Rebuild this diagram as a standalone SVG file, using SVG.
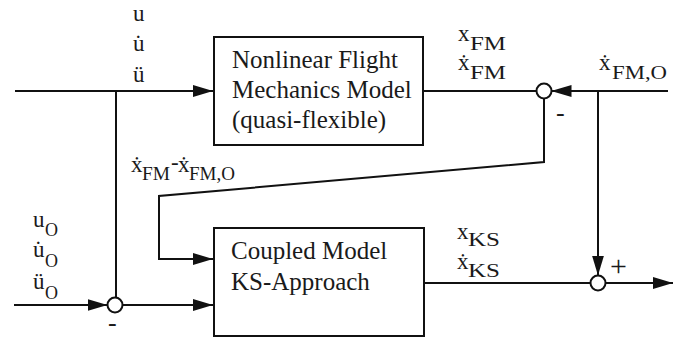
<svg xmlns="http://www.w3.org/2000/svg" width="674" height="340" viewBox="0 0 674 340">
<defs>
<marker id="ah" viewBox="0 0 20 12" refX="20" refY="6" markerWidth="20" markerHeight="12" markerUnits="userSpaceOnUse" orient="auto">
<path d="M0,0 L20,6 L0,12 Z" fill="#111"/>
</marker>
<style>
.box{fill:#fff;stroke:#111;stroke-width:2}
.ln{fill:none;stroke:#111;stroke-width:2}
.arr{fill:none;stroke:#111;stroke-width:2;marker-end:url(#ah)}
.sum{fill:#fff;stroke:#111;stroke-width:2}
.bt{font-family:"Liberation Serif","Times New Roman",serif;font-size:25px;fill:#1a1a1a}
.lb{font-family:"Liberation Serif","Times New Roman",serif;font-size:23px;fill:#1a1a1a}
.sub{font-size:18px}
.sg{font-family:"Liberation Serif","Times New Roman",serif;font-size:26px;fill:#1a1a1a}
</style>
</defs>
<g id="connectors">
<path class="arr" d="M15,91 H213"/>
<path class="ln" d="M116,91 V297.5"/>
<path class="arr" d="M14,305 H107.5"/>
<path class="arr" d="M122.5,305 H213"/>
<path class="ln" d="M424,91 H536.5"/>
<path class="arr" d="M668,91 H551.5"/>
<path class="arr" d="M598,91 V275.5"/>
<path class="ln" d="M424,283 H590.5"/>
<path class="arr" d="M605.5,283 H673"/>
<path class="arr" d="M544,98.5 V162 L159,196 V259 H213"/>
</g>
<g id="fm-model">
<rect class="box" x="214" y="37" width="209" height="108"/>
<text class="bt" x="232" y="68">Nonlinear Flight</text>
<text class="bt" x="232" y="98">Mechanics Model</text>
<text class="bt" x="232" y="128">(quasi-flexible)</text>
</g>
<g id="ks-model">
<rect class="box" x="214" y="228" width="210" height="108"/>
<text class="bt" x="231" y="259">Coupled Model</text>
<text class="bt" x="231" y="290">KS-Approach</text>
</g>
<g id="sum-top">
<circle class="sum" cx="544" cy="91" r="7.5"/>
</g>
<g id="sum-left">
<circle class="sum" cx="115" cy="305" r="7.5"/>
</g>
<g id="sum-right">
<circle class="sum" cx="598" cy="283" r="7.5"/>
</g>
<g id="labels">
<text class="lb" x="133" y="21">u</text>
<text class="lb" x="133" y="51">u̇</text>
<text class="lb" x="133" y="82">ü</text>
<text class="lb" x="33" y="227">u<tspan class="sub" x="45" y="236">O</tspan></text>
<text class="lb" x="33" y="257">u̇<tspan class="sub" x="45" y="267">O</tspan></text>
<text class="lb" x="33" y="289">ü<tspan class="sub" x="45" y="299">O</tspan></text>
<text class="lb" x="458" y="41">x<tspan class="sub" x="470" y="50" textLength="36" lengthAdjust="spacingAndGlyphs">FM</tspan></text>
<text class="lb" x="458" y="70">ẋ<tspan class="sub" x="470" y="79" textLength="36" lengthAdjust="spacingAndGlyphs">FM</tspan></text>
<text class="lb" x="599" y="70">ẋ<tspan class="sub" x="612" y="79" textLength="55" lengthAdjust="spacingAndGlyphs">FM,O</tspan></text>
<text class="lb" x="131" y="172">ẋ<tspan class="sub" x="142" y="180" textLength="28" lengthAdjust="spacingAndGlyphs">FM</tspan><tspan x="171" y="170">-</tspan><tspan x="178" y="172">ẋ</tspan><tspan class="sub" x="189" y="180" textLength="46" lengthAdjust="spacingAndGlyphs">FM,O</tspan></text>
<text class="lb" x="457" y="239">x<tspan class="sub" x="468" y="246" textLength="32" lengthAdjust="spacingAndGlyphs">KS</tspan></text>
<text class="lb" x="457" y="269">ẋ<tspan class="sub" x="468" y="277" textLength="32" lengthAdjust="spacingAndGlyphs">KS</tspan></text>
<text class="sg" x="556" y="121">-</text>
<text class="sg" x="108" y="331">-</text>
<text class="sg" x="610" y="276" style="font-size:30px">+</text>
</g>
</svg>
